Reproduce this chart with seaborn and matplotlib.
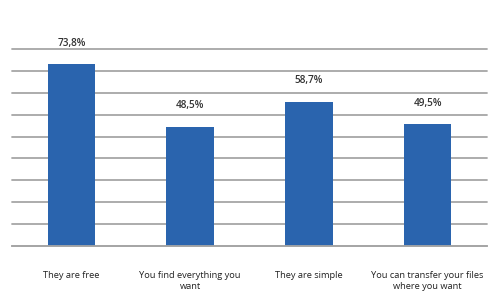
import matplotlib
matplotlib.use("Agg")
import matplotlib.pyplot as plt
import seaborn as sns
import numpy as np
import pandas as pd

categories = ["They are free", "You find everything you\nwant", "They are simple",
              "You can transfer your files\nwhere you want"]
values = [73.8, 48.5, 58.7, 49.5]
value_labels = ["73,8%", "48,5%", "58,7%", "49,5%"]

sns.set_style("white")
plt.rcParams['font.family'] = ['Open Sans', 'DejaVu Sans']

fig = plt.figure(figsize=(4.99, 3.07), dpi=100)
ax = fig.add_axes([0.024, 0.199, 0.952, 0.641])

df = pd.DataFrame({"cat": categories, "val": values})
sns.barplot(data=df, x="cat", y="val", color="#2a64ae", width=0.4, ax=ax,
            saturation=1, edgecolor="none", linewidth=0)

ax.set_ylim(0, 80)
ax.set_xlim(-0.5, 3.5)
ax.set_yticks(np.linspace(0, 80, 10))
ax.set_yticklabels([])
ax.tick_params(axis='y', length=0)
ax.yaxis.grid(True, color="#a6a6a6", linewidth=1.3)
for gl in ax.get_ygridlines():
    gl.set_clip_on(False)
ax.set_axisbelow(True)
for s in ["top", "right", "left"]:
    ax.spines[s].set_visible(False)
ax.spines["bottom"].set_color("#a6a6a6")
ax.spines["bottom"].set_linewidth(1.3)

ax.set_xticks([-0.5, 0.5, 1.5, 2.5, 3.5], minor=False)
ax.set_xticklabels([])
ax.tick_params(axis='x', which='major', length=4, color="#a6a6a6", width=1)
ax.set_xticks([0, 1, 2, 3], minor=True)
ax.set_xticklabels(categories, minor=True, fontsize=6.7, color="#222222",
                   linespacing=1.35)
ax.tick_params(axis='x', which='minor', length=0, pad=18)
ax.set_xlabel("")
ax.set_ylabel("")

for i, (v, lab) in enumerate(zip(values, value_labels)):
    ax.annotate(lab, (i, v), xytext=(0, 15), textcoords="offset points",
                ha="center", va="center", fontsize=7.2, color="#333333",
                fontweight="semibold")

fig.savefig("out.png", dpi=100)
